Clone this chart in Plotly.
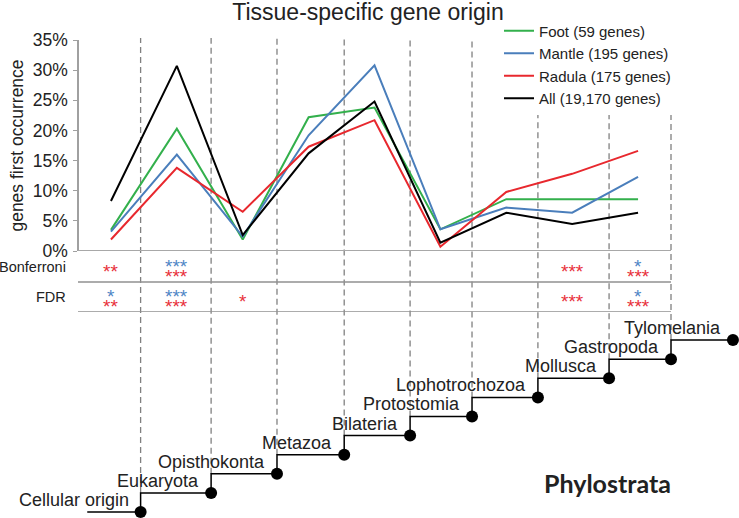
import plotly.graph_objects as go

# ---------------- data ----------------
stages = list(range(9))  # interval index between phylostrata boundaries
foot = [3.5, 20.3, 1.9, 22.2, 23.8, 3.6, 8.6, 8.6, 8.6]
mantle = [3.2, 16.0, 2.4, 19.2, 30.8, 3.6, 7.2, 6.35, 12.3]
radula = [1.9, 13.8, 6.5, 17.3, 21.7, 0.7, 9.8, 12.8, 16.6]
all_genes = [8.3, 30.7, 2.65, 16.2, 24.8, 1.4, 6.35, 4.5, 6.35]

series_names = ["Foot (59 genes)", "Mantle (195 genes)", "Radula (175 genes)", "All (19,170 genes)"]
series_colors = ["#33B04C", "#4A7EBB", "#E8282E", "#000000"]

bonf_blue = ["", "***", "", "", "", "", "", "", "*"]
bonf_red = ["**", "***", "", "", "", "", "", "***", "***"]
fdr_blue = ["*", "***", "", "", "", "", "", "", "*"]
fdr_red = ["**", "***", "*", "", "", "", "", "***", "***"]
row_labels = ["Bonferroni", "FDR"]

strata = ["Cellular origin", "Eukaryota", "Opisthokonta", "Metazoa", "Bilateria",
          "Protostomia", "Lophotrochozoa", "Mollusca", "Gastropoda", "Tylomelania"]
strata_x = [0.45, 1.52, 2.52, 3.54, 4.54, 5.48, 6.48, 7.56, 8.5, 9.44]
strata_level = [0, 1, 2, 3, 4, 5, 6, 7, 8, 9]
stair_start = -0.36

# ---------------- layout geometry ----------------
W, H = 739, 518
X_RANGE = [-1.684, 9.532]
Y_DOM = [1 - 251 / H, 1 - 40 / H]
Y2_DOM = [1 - 312 / H, 1 - 252 / H]
Y3_DOM = [0, 1 - 312 / H]
Y3_RANGE = [-0.314, 10.47]
DASH_TOP = 1 - 38 / H

BLUE_STAR = "#4F86C6"
RED_STAR = "#E8303A"
TXT = "#222222"
FONT = "Liberation Sans, Arial, sans-serif"

fig = go.Figure()

# lines
for vals, name, col in zip([foot, mantle, radula, all_genes], series_names, series_colors):
    fig.add_trace(go.Scatter(x=stages, y=vals, mode="lines", name=name,
                             line=dict(color=col, width=2), xaxis="x", yaxis="y"))

# staircase
sx, sy = [stair_start], [strata_level[0]]
for i in range(len(strata)):
    sx.append(strata_x[i]); sy.append(strata_level[i])
    if i + 1 < len(strata):
        sx.append(strata_x[i]); sy.append(strata_level[i + 1])
fig.add_trace(go.Scatter(x=sx, y=sy, mode="lines", line=dict(color="black", width=1.5),
                         showlegend=False, hoverinfo="skip", xaxis="x", yaxis="y3",
                         cliponaxis=False))
fig.add_trace(go.Scatter(x=strata_x, y=strata_level, mode="markers",
                         marker=dict(color="black", size=12), showlegend=False,
                         hoverinfo="skip", xaxis="x", yaxis="y3", cliponaxis=False))

def y3_to_paper(v):
    return Y3_DOM[0] + (v - Y3_RANGE[0]) / (Y3_RANGE[1] - Y3_RANGE[0]) * (Y3_DOM[1] - Y3_DOM[0])

shapes = []
# dashed phylostrata boundaries
for i in range(len(strata) - 1):
    shapes.append(dict(type="line", xref="x", yref="paper", x0=strata_x[i], x1=strata_x[i],
                       y0=y3_to_paper(strata_level[i + 1]), y1=DASH_TOP,
                       line=dict(color="#808080", width=1.3, dash="6px,4px"), layer="below"))
# baseline 0% and significance separators
shapes.append(dict(type="line", xref="x", yref="y", x0=-0.5, x1=8.5, y0=0, y1=0,
                   line=dict(color="#A8A8A8", width=2)))
for r in [1, 0]:
    shapes.append(dict(type="line", xref="x", yref="y2", x0=-0.5, x1=8.5, y0=r, y1=r,
                       line=dict(color="#909090", width=1.5)))

annotations = []
# row labels
for lab, yc in zip(row_labels, [1.5, 0.5]):
    annotations.append(dict(text=lab, xref="paper", yref="y2", x=68 / W, y=yc,
                            xanchor="right", yanchor="middle", showarrow=False,
                            font=dict(size=14.5, color=TXT, family=FONT)))
# stars
for blues, reds, yc in [(bonf_blue, bonf_red, 1.5), (fdr_blue, fdr_red, 0.5)]:
    for i in stages:
        if blues[i]:
            annotations.append(dict(text=blues[i], x=i, y=yc, xref="x", yref="y2",
                                    xanchor="center", yanchor="middle",
                                    showarrow=False, yshift=1,
                                    font=dict(size=19, color=BLUE_STAR, family=FONT)))
        if reds[i]:
            ys = -9 if blues[i] else -4.5
            annotations.append(dict(text=reds[i], x=i, y=yc, xref="x", yref="y2",
                                    xanchor="center", yanchor="middle",
                                    showarrow=False, yshift=ys,
                                    font=dict(size=19, color=RED_STAR, family=FONT)))
# strata labels
for name, x, lv in zip(strata, strata_x, strata_level):
    annotations.append(dict(text=name, x=x, y=lv, xref="x", yref="y3", xanchor="right",
                            yanchor="bottom", xshift=-10, yshift=0, showarrow=False,
                            font=dict(size=18, color=TXT, family=FONT)))
annotations.append(dict(text="<b>Phylostrata</b>", xref="paper", yref="paper",
                        x=607 / W, y=1 - 483 / H, xanchor="center", yanchor="middle",
                        showarrow=False,
                        font=dict(size=25, color="#222222", family="Lato, Carlito, sans-serif")))

fig.update_layout(
    width=W, height=H, autosize=False,
    margin=dict(l=0, r=0, t=0, b=0, pad=0, autoexpand=False),
    paper_bgcolor="white", plot_bgcolor="rgba(0,0,0,0)",
    font=dict(family=FONT, color=TXT),
    title=dict(text="Tissue-specific gene origin", x=368 / W, xanchor="center",
               y=1 - 4 / H, yanchor="top", yref="container",
               font=dict(size=23, color=TXT, family=FONT)),
    xaxis=dict(domain=[0, 1], range=X_RANGE, visible=False),
    yaxis=dict(domain=Y_DOM, range=[0, 35], anchor="free", position=78 / W,
               dtick=5, ticksuffix="%", showline=True, linecolor="#A0A0A0", linewidth=1.5,
               ticks="outside", ticklen=4, tickcolor="#A0A0A0", showgrid=False,
               ticklabelstandoff=2,
               zeroline=False, tickfont=dict(size=17.5, color=TXT, family=FONT),
               title=dict(text="genes first occurrence", standoff=4,
                          font=dict(size=17.5, color=TXT, family=FONT))),
    yaxis2=dict(domain=Y2_DOM, range=[0, 2], visible=False, anchor="x"),
    yaxis3=dict(domain=Y3_DOM, range=Y3_RANGE, visible=False, anchor="x"),
    legend=dict(x=499 / W, y=1 - 14.5 / H, xanchor="left", yanchor="top",
                bgcolor="white", borderwidth=0, font=dict(size=15, color=TXT, family=FONT),
                tracegroupgap=0),
    shapes=shapes, annotations=annotations, showlegend=True,
)

fig.write_html("out.html", config={"displayModeBar": False},
               post_script="document.body.style.margin='0px';")
